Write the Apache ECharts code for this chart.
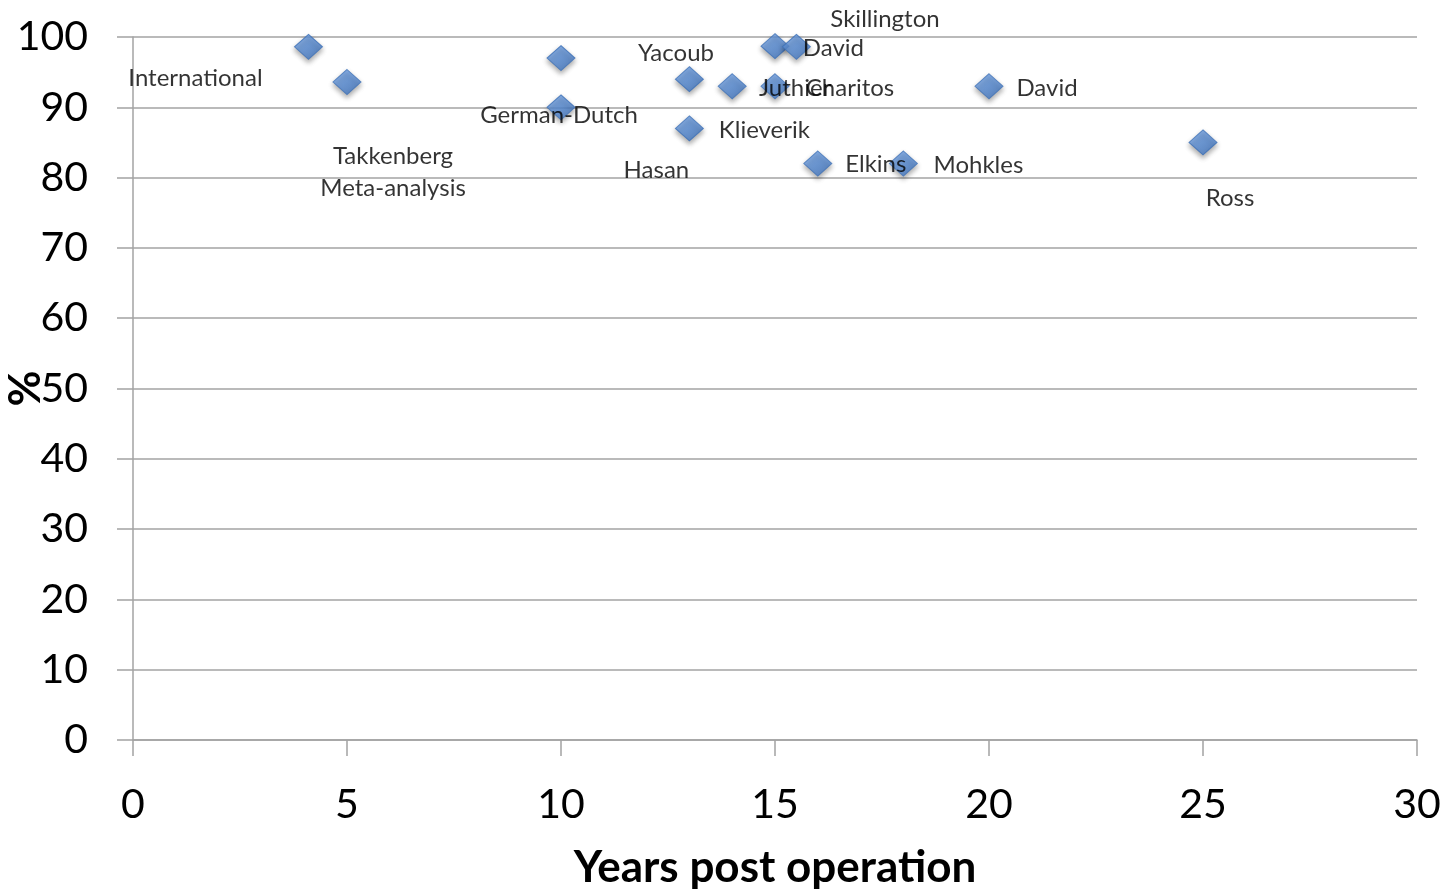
<!DOCTYPE html>
<html>
<head>
<meta charset="utf-8">
<script src="https://cdn.jsdelivr.net/npm/echarts@6/dist/echarts.min.js"></script>
<style>
  html, body { margin: 0; padding: 0; background: #fff; }
  #chart { width: 1443px; height: 892px; }
</style>
</head>
<body>
<div id="chart"></div>
<script>
// Study names, follow-up years and reported percentages
const studies = ['International', 'Takkenberg\nMeta-analysis', 'Yacoub', 'German-Dutch', 'Hasan',
  'Klieverik', 'Juthier', 'Skillington', 'David', 'Charitos', 'Elkins', 'Mohkles', 'David', 'Ross'];
const years = [4.1, 5, 10, 10, 13, 13, 14, 15, 15.5, 15, 16, 18, 20, 25];
const percent = [98.6, 93.6, 97, 90, 94, 87, 93, 98.7, 98.6, 93, 82, 82, 93, 85];

// Where each study's name sits relative to its marker (pixels)
const labelOffsets = [[-113, 31], [46, 90], [115, -5], [-2, 8], [-33, 91],
  [75, 2], [63, 2], [110, -27], [37, 1], [75, 2], [58, 1], [75, 2], [58, 2], [27, 56]];

const xTicks = { min: 0, max: 30, interval: 5 };
const yTicks = { min: 0, max: 100, interval: 10 };

const FONT = 'Lato, "Open Sans", sans-serif';
const gridColor = '#a3a3a3';

const points = years.map((x, i) => ({
  value: [x, percent[i]],
  label: { formatter: studies[i], offset: labelOffsets[i] }
}));

const chart = echarts.init(document.getElementById('chart'), null, { renderer: 'canvas' });
chart.setOption({
  animation: false,
  backgroundColor: '#ffffff',
  grid: { left: 133, right: 26, top: 37, bottom: 152, containLabel: false, outerBoundsMode: 'none' },
  xAxis: {
    type: 'value',
    min: xTicks.min, max: xTicks.max, interval: xTicks.interval,
    name: 'Years post operation',
    nameLocation: 'middle',
    nameGap: 106,
    nameMoveOverlap: false,
    nameTextStyle: { fontFamily: FONT, fontSize: 44, fontWeight: 'bold', color: '#000' },
    axisLine: { show: true, onZero: false, lineStyle: { color: gridColor, width: 1.5 } },
    axisTick: { show: true, inside: false, length: 16, lineStyle: { color: gridColor, width: 1.5 } },
    axisLabel: { fontFamily: FONT, fontSize: 41, color: '#000', margin: 44 },
    splitLine: { show: false }
  },
  yAxis: {
    type: 'value',
    min: yTicks.min, max: yTicks.max, interval: yTicks.interval,
    name: '%',
    nameLocation: 'middle',
    nameRotate: 90,
    nameGap: 85,
    nameMoveOverlap: false,
    nameTextStyle: { fontFamily: FONT, fontSize: 44, fontWeight: 'bold', color: '#000' },
    axisLine: { show: true, onZero: false, lineStyle: { color: gridColor, width: 1.5 } },
    axisTick: { show: true, inside: false, length: 16, lineStyle: { color: gridColor, width: 1.5 } },
    axisLabel: { fontFamily: FONT, fontSize: 41, color: '#000', margin: 45 },
    splitLine: { show: true, lineStyle: { color: gridColor, width: 1.5 } }
  },
  series: [{
    type: 'scatter',
    symbol: 'diamond',
    symbolSize: [28, 25],
    data: points,
    itemStyle: {
      color: new echarts.graphic.LinearGradient(0, 0, 1, 1, [
        { offset: 0, color: '#78a8ea' },
        { offset: 0.5, color: '#588dd6' },
        { offset: 1, color: '#3c70ba' }
      ]),
      borderColor: '#3f72b8',
      borderWidth: 1,
      shadowBlur: 5,
      shadowOffsetY: 3,
      shadowColor: 'rgba(0,0,0,0.4)'
    },
    label: {
      show: true,
      position: 'inside',
      align: 'center',
      verticalAlign: 'middle',
      fontFamily: FONT,
      fontSize: 24,
      lineHeight: 32,
      color: '#000'
    },
    z: 3
  }]
});
</script>
</body>
</html>
